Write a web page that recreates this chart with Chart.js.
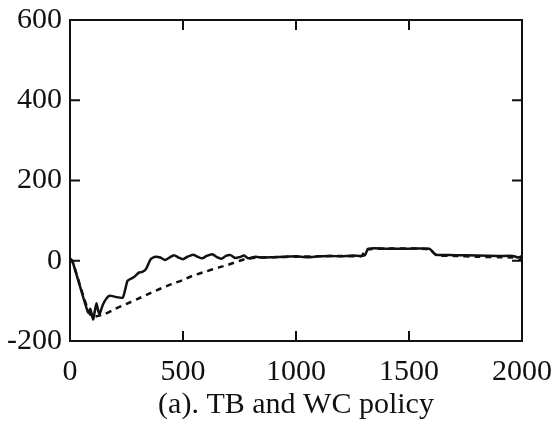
<!DOCTYPE html>
<html>
<head>
<meta charset="utf-8">
<script src="https://cdn.jsdelivr.net/npm/chart.js@4/dist/chart.umd.min.js"></script>
<style>
  html, body { margin: 0; padding: 0; background: #fff; }
  #wrap { width: 560px; height: 431px; }
</style>
</head>
<body>
<div id="wrap"><canvas id="chart" width="560" height="431"></canvas></div>
<script>
// TB policy (solid line)
const tbX = [0, 10, 45, 80, 90, 102, 110, 117, 125, 131, 145, 160, 175, 200, 233, 245, 255, 280, 306, 320, 336, 357, 379,
    400, 420, 440, 460, 480, 500, 520, 545, 565, 585, 605, 630, 650, 670, 690, 710, 730, 750, 770, 790, 820, 850,
    900, 950, 1000, 1050, 1100, 1150, 1200, 1250, 1290, 1305, 1320, 1400, 1500, 1590, 1605, 1620, 1700, 1800, 1900, 1960, 1985, 2000];
const tbY = [5, 0, -65, -129, -120, -146, -125, -106, -125, -133, -110, -95, -87, -90, -92, -70, -50, -42, -29, -28, -21, 4, 10,
    8, 2, 8, 14, 8, 4, 10, 15, 10, 6, 12, 16, 9, 5, 12, 14, 7, 9, 13, 6, 10, 8,
    9, 10, 11, 9, 11, 12, 11, 13, 12, 14, 30, 30, 30, 30, 22, 15, 14, 13, 12, 12, 8, 12];

// WC policy (dashed line)
const wcX = [0, 10, 60, 85, 100, 120, 153, 200, 248, 300, 350, 394, 450, 500, 540, 600, 656, 700, 773, 831, 900,
    1000, 1100, 1200, 1290, 1310, 1590, 1620, 1700, 1800, 1900, 1960, 1990, 2000];
const wcY = [5, 0, -90, -130, -140, -138, -133, -120, -108, -95, -82, -71, -58, -48, -38, -27, -17, -10, 4, 8, 9,
    10, 11, 12, 12, 28, 29, 14, 12, 10, 9, 8, 2, 8];

const xTicks = [0, 500, 1000, 1500, 2000];
const yTicks = [-200, 0, 200, 400, 600];

function toPoints(xs, ys) {
    return xs.map((x, i) => ({ x: x, y: ys[i] }));
}

// frame around plot area with inward tick marks on all four sides
const framePlugin = {
    id: 'frame',
    afterDraw(chart) {
        const ctx = chart.ctx;
        const a = chart.chartArea;
        const xs = chart.scales.x, ys = chart.scales.y;
        const len = 10;
        ctx.save();
        ctx.strokeStyle = '#111';
        ctx.lineWidth = 2;
        ctx.strokeRect(a.left, a.top, a.right - a.left, a.bottom - a.top);
        ctx.beginPath();
        xTicks.forEach(v => {
            const px = xs.getPixelForValue(v);
            ctx.moveTo(px, a.bottom); ctx.lineTo(px, a.bottom - len);
            ctx.moveTo(px, a.top); ctx.lineTo(px, a.top + len);
        });
        yTicks.forEach(v => {
            const py = ys.getPixelForValue(v);
            ctx.moveTo(a.left, py); ctx.lineTo(a.left + len, py);
            ctx.moveTo(a.right, py); ctx.lineTo(a.right - len, py);
        });
        ctx.stroke();
        ctx.restore();
    }
};

const serif = '"Liberation Serif", "DejaVu Serif", serif';
const tickFont = { family: serif, size: 30 };

new Chart(document.getElementById('chart').getContext('2d'), {
    type: 'line',
    data: {
        datasets: [
            {
                label: 'TB',
                data: toPoints(tbX, tbY),
                borderColor: '#111',
                borderWidth: 2.5,
                pointRadius: 0,
                tension: 0.2
            },
            {
                label: 'WC',
                data: toPoints(wcX, wcY),
                borderColor: '#111',
                borderWidth: 2.5,
                borderDash: [6, 5],
                pointRadius: 0,
                tension: 0.2
            }
        ]
    },
    options: {
        responsive: false,
        animation: false,
        layout: { padding: { left: 0, right: 38, top: 20, bottom: 0 } },
        plugins: {
            legend: { display: false },
            tooltip: { enabled: false }
        },
        scales: {
            x: {
                type: 'linear',
                min: 0,
                max: 2000,
                afterBuildTicks: s => { s.ticks = xTicks.map(v => ({ value: v })); },
                afterFit: s => { s.height = 90; s.paddingLeft = 0; s.paddingRight = 0; },
                grid: { display: false, drawTicks: false },
                border: { display: false },
                ticks: { color: '#111', font: tickFont, padding: 13, maxRotation: 0, callback: v => String(v) },
                title: {
                    display: true,
                    text: '(a). TB and WC policy',
                    color: '#111',
                    font: { family: serif, size: 30 },
                    padding: { top: 0, bottom: 8 }
                }
            },
            y: {
                min: -200,
                max: 600,
                afterBuildTicks: s => { s.ticks = yTicks.map(v => ({ value: v })); },
                afterFit: s => { s.width = 70; s.paddingTop = 0; s.paddingBottom = 0; },
                grid: { display: false, drawTicks: false },
                border: { display: false },
                ticks: { color: '#111', font: tickFont, padding: 8, callback: v => String(v) }
            }
        }
    },
    plugins: [framePlugin]
});
</script>
</body>
</html>
